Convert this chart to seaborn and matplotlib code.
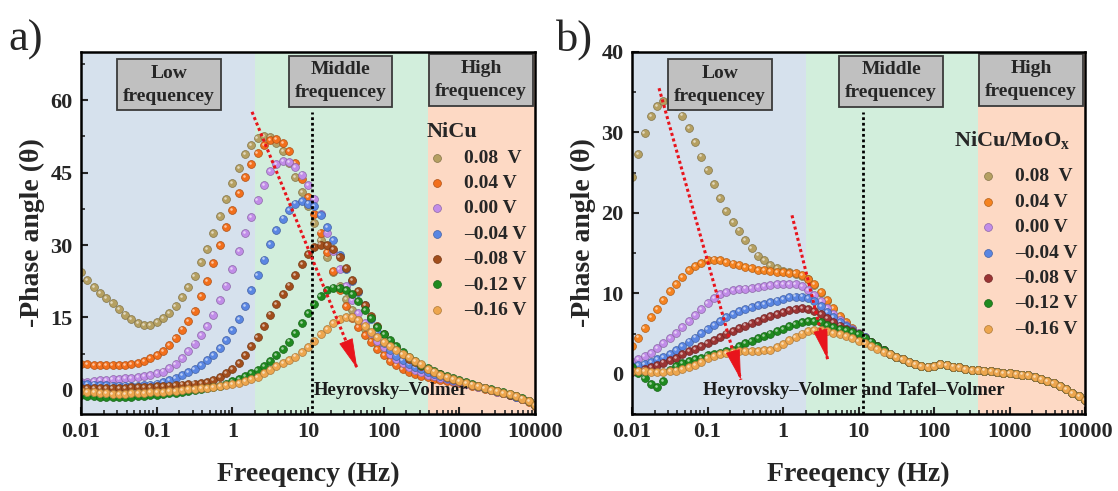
import numpy as np
import pandas as pd
import matplotlib
matplotlib.use("Agg")
import matplotlib.pyplot as plt
import matplotlib.colors as mcolors
import matplotlib.transforms as mtransforms
from matplotlib.ticker import LogLocator, NullFormatter, MultipleLocator
import seaborn as sns

sns.set_theme(style="ticks")
plt.rcParams["font.family"] = ["Liberation Serif", "DejaVu Serif"]
plt.rcParams["font.weight"] = "bold"
plt.rcParams["mathtext.fontset"] = "custom"
plt.rcParams["mathtext.rm"] = "Liberation Serif:bold"
plt.rcParams["mathtext.bf"] = "Liberation Serif:bold"
plt.rcParams["mathtext.it"] = "Liberation Serif:bold"

# ---------------------------------------------------------------- data
# Bode phase sweep, 0.01 Hz -> 10 kHz, 12 points per decade
freq = np.logspace(-2, 4, 73)

potentials = ["0.08  V", "0.04 V", "0.00 V", "\u20130.04 V", "\u20130.08 V", "\u20130.12 V", "\u20130.16 V"]

# NiCu
a_p08 = [24.4, 22.8, 21.3, 20.1, 19.0, 17.9, 16.8, 15.6, 14.6, 13.9, 13.4, 13.5,
         14.0, 14.8, 15.9, 17.3, 19.2, 21.3, 23.6, 26.4, 29.2, 32.5, 36.0, 39.5,
         42.9, 46.0, 48.8, 50.8, 52.2, 52.6, 52.3, 51.2, 49.5, 47.0, 44.0, 41.0,
         38.0, 34.6, 31.0, 27.6, 24.5, 21.5, 18.8, 16.5, 14.5, 12.6, 11.0, 9.5,
         8.2, 7.1, 6.2, 5.4, 4.7, 4.1, 3.6, 3.2, 2.9, 2.6, 2.3, 2.0,
         1.7, 1.4, 1.0, 0.7, 0.3, 0.0, -0.3, -0.6, -0.9, -1.3, -1.8, -2.4,
         -3.2]
a_p04 = [5.4, 5.3, 5.2, 5.1, 5.1, 5.1, 5.1, 5.2, 5.3, 5.6, 6.0, 6.5,
         7.2, 8.1, 9.3, 10.8, 12.5, 14.3, 16.4, 19.4, 22.6, 26.3, 30.0, 33.7,
         37.3, 40.8, 44.0, 46.8, 49.0, 50.8, 51.8, 52.0, 51.2, 49.4, 46.9, 43.6,
         40.0, 36.4, 32.6, 28.6, 24.6, 20.6, 17.3, 14.8, 13.0, 11.4, 10.0, 8.5,
         7.2, 6.0, 5.1, 4.4, 3.8, 3.3, 2.9, 2.6, 2.3, 2.1, 1.9, 1.7,
         1.5, 1.2, 0.9, 0.6, 0.2, -0.1, -0.4, -0.7, -1.0, -1.4, -1.9, -2.5,
         -3.3]
a_000 = [1.6, 1.7, 1.8, 2.0, 2.1, 2.2, 2.3, 2.4, 2.5, 2.6, 2.8, 3.1,
         3.4, 3.8, 4.5, 5.4, 6.6, 8.0, 9.6, 11.4, 13.2, 15.6, 18.6, 21.6,
         25.0, 28.8, 32.5, 35.8, 39.3, 42.5, 45.3, 46.8, 47.4, 47.2, 46.2, 44.6,
         42.4, 39.6, 36.4, 32.6, 28.8, 25.0, 21.5, 18.6, 16.0, 13.8, 11.8, 10.2,
         8.8, 7.5, 6.4, 5.5, 4.8, 4.1, 3.6, 3.1, 2.8, 2.5, 2.2, 1.9,
         1.6, 1.3, 1.0, 0.6, 0.3, -0.1, -0.4, -0.7, -1.0, -1.4, -1.8, -2.4,
         -3.2]
a_m04 = [1.3, 1.2, 1.1, 1.0, 1.0, 0.9, 0.9, 0.9, 0.9, 0.9, 1.0, 1.1,
         1.3, 1.6, 2.0, 2.5, 3.0, 3.7, 4.4, 5.2, 6.1, 7.3, 8.7, 10.4,
         12.3, 14.6, 17.4, 20.6, 23.8, 27.0, 30.2, 33.2, 35.5, 37.3, 38.6, 39.1,
         38.6, 38.0, 36.2, 33.8, 31.0, 28.0, 25.0, 22.5, 20.2, 17.5, 14.6, 12.0,
         9.8, 8.3, 7.1, 6.2, 5.4, 4.8, 4.3, 3.8, 3.3, 2.9, 2.5, 2.1,
         1.8, 1.4, 1.1, 0.7, 0.4, 0.0, -0.3, -0.6, -1.0, -1.4, -1.8, -2.4,
         -3.2]
a_m08 = [0.3, 0.3, 0.3, 0.3, 0.3, 0.3, 0.4, 0.4, 0.5, 0.5, 0.6, 0.6,
         0.7, 0.8, 0.9, 1.0, 1.1, 1.2, 1.3, 1.5, 1.7, 2.0, 2.6, 3.4,
         4.4, 5.6, 7.2, 9.0, 11.0, 13.2, 15.6, 17.8, 19.8, 21.6, 23.8, 26.0,
         28.1, 29.5, 30.1, 30.0, 29.2, 27.6, 25.2, 22.8, 20.4, 17.6, 15.3, 13.3,
         11.5, 9.9, 8.6, 7.4, 6.4, 5.7, 5.0, 4.3, 3.7, 3.2, 2.7, 2.3,
         1.9, 1.5, 1.1, 0.7, 0.4, 0.0, -0.3, -0.6, -1.0, -1.3, -1.8, -2.4,
         -3.1]
a_m12 = [-1.0, -1.2, -1.3, -1.4, -1.5, -1.5, -1.5, -1.4, -1.4, -1.3, -1.2, -1.1,
         -1.0, -0.9, -0.7, -0.6, -0.4, -0.2, -0.1, 0.2, 0.4, 0.6, 0.9, 1.3,
         1.8, 2.3, 2.8, 3.4, 4.1, 5.0, 6.0, 7.2, 8.5, 10.0, 11.8, 13.8,
         15.9, 17.8, 19.4, 20.6, 21.2, 21.1, 20.6, 19.8, 18.4, 16.6, 14.8, 13.0,
         11.6, 10.3, 9.0, 7.9, 6.9, 6.0, 5.2, 4.5, 3.9, 3.3, 2.8, 2.4,
         2.0, 1.6, 1.2, 0.8, 0.4, 0.1, -0.2, -0.5, -0.9, -1.3, -1.7, -2.3,
         -3.1]
a_m16 = [-0.3, -0.4, -0.5, -0.6, -0.7, -0.8, -0.8, -0.8, -0.7, -0.7, -0.6, -0.5,
         -0.5, -0.4, -0.3, -0.2, -0.1, 0.1, 0.2, 0.3, 0.4, 0.6, 0.8, 1.0,
         1.2, 1.5, 1.8, 2.2, 2.7, 3.4, 4.2, 4.9, 5.6, 6.2, 6.9, 7.8,
         8.9, 10.2, 11.5, 12.6, 13.8, 14.7, 15.1, 15.1, 14.4, 13.2, 12.0, 10.9,
         9.9, 9.0, 8.2, 7.5, 6.8, 6.0, 5.3, 4.4, 3.8, 3.1, 2.6, 2.2,
         1.9, 1.5, 1.1, 0.7, 0.4, 0.0, -0.3, -0.6, -0.9, -1.3, -1.8, -2.4,
         -3.2]

# NiCu/MoOx : low/middle-frequency part (0.01 Hz - ~22 Hz) of each potential
b_p08 = [24.4, 27.3, 29.9, 32.0, 33.3, 33.9, 34.0, 33.3, 32.1, 30.5, 28.8, 27.0,
         25.3, 23.6, 21.8, 20.2, 18.9, 17.8, 16.6, 15.6, 14.7, 14.1, 13.5, 13.1,
         12.8, 12.6, 12.4, 12.2, 11.8, 11.0, 10.0, 9.0, 8.0, 7.1, 6.3, 5.6,
         5.0, 4.5, 4.0, 3.4, 2.9]
b_p04 = [3.4, 4.5, 5.7, 7.0, 8.1, 9.2, 10.3, 11.2, 12.0, 12.9, 13.4, 13.8,
         14.1, 14.2, 14.1, 13.9, 13.7, 13.5, 13.3, 13.1, 12.9, 12.9, 12.8, 12.7,
         12.6, 12.5, 12.5, 12.3, 11.8, 11.1, 10.2, 9.2, 8.2, 7.2, 6.4, 5.7,
         5.1, 4.6, 4.0, 3.5, 3.0]
b_000 = [1.5, 1.8, 2.2, 2.6, 3.2, 3.8, 4.4, 5.1, 5.8, 6.5, 7.3, 8.1,
         8.8, 9.4, 9.9, 10.2, 10.4, 10.5, 10.6, 10.7, 10.8, 10.9, 11.0, 11.1,
         11.2, 11.2, 11.2, 10.9, 10.4, 9.8, 9.0, 8.2, 7.4, 6.7, 6.1, 5.6,
         5.1, 4.6, 4.0, 3.5, 3.0]
b_m04 = [1.0, 1.1, 1.2, 1.5, 1.8, 2.1, 2.5, 2.9, 3.4, 4.0, 4.5, 5.1,
         5.6, 6.1, 6.5, 7.0, 7.4, 7.8, 8.1, 8.3, 8.5, 8.7, 8.9, 9.1,
         9.3, 9.5, 9.6, 9.6, 9.4, 9.0, 8.4, 7.7, 7.0, 6.4, 5.9, 5.4,
         5.0, 4.6, 4.0, 3.5, 3.0]
b_m08 = [0.2, 0.4, 0.6, 0.8, 1.1, 1.4, 1.7, 2.0, 2.4, 2.8, 3.1, 3.4,
         3.8, 4.2, 4.6, 5.0, 5.3, 5.7, 6.0, 6.3, 6.6, 6.9, 7.2, 7.4,
         7.7, 7.9, 8.1, 8.2, 8.1, 7.8, 7.4, 6.9, 6.4, 6.0, 5.6, 5.3,
         4.9, 4.5, 4.0, 3.5, 3.0]
b_m12 = [0.8, 0.1, -0.5, -1.3, -1.7, -0.9, 0.5, 1.0, 1.3, 1.6, 1.8, 2.0,
         2.3, 2.5, 2.6, 2.8, 3.0, 3.4, 3.8, 4.1, 4.4, 4.7, 5.0, 5.3,
         5.6, 5.9, 6.2, 6.4, 6.6, 6.6, 6.4, 6.1, 5.8, 5.6, 5.4, 5.2,
         4.9, 4.5, 4.0, 3.5, 3.0]
b_m16 = [0.4, 0.3, 0.3, 0.2, 0.2, 0.2, 0.3, 0.4, 0.6, 0.8, 1.1, 1.5,
         1.9, 2.2, 2.5, 2.6, 2.7, 2.8, 2.8, 2.8, 2.8, 2.9, 3.0, 3.3,
         3.7, 4.2, 4.6, 5.0, 5.3, 5.4, 5.4, 5.3, 5.1, 4.9, 4.7, 4.4,
         4.1, 3.8, 3.4, 3.1, 2.7]
# NiCu/MoOx : above ~22 Hz all potentials share one curve
b_tail = [2.4, 2.1, 1.8, 1.5, 1.2, 1.0, 0.9, 1.0, 1.2, 1.1, 0.9, 0.8,
          0.6, 0.5, 0.5, 0.4, 0.3, 0.2, 0.1, 0.1, 0.0, -0.1, -0.2, -0.4,
          -0.7, -0.9, -1.2, -1.5, -1.9, -2.4, -2.8, -3.3]

series_a = [a_p08, a_p04, a_000, a_m04, a_m08, a_m12, a_m16]
series_b = [s + b_tail for s in (b_p08, b_p04, b_000, b_m04, b_m08, b_m12, b_m16)]

colors_a = ["#b5a062", "#f26f1c", "#c18de8", "#5a86e2", "#a24e1c", "#1f8a1f", "#eda64e"]
colors_b = ["#b5a062", "#f58320", "#c18de8", "#5a86e2", "#9a3434", "#1f8a1f", "#eda64e"]

freq_ticks = [0.01, 0.1, 1, 10, 100, 1000, 10000]
freq_labels = ["0.01", "0.1", "1", "10", "100", "1000", "10000"]

BAND_LOW, BAND_MID, BAND_HIGH = "#d6e1ed", "#d2eedc", "#fdd9c4"
band_edges = [0.01, 2.0, 385.0, 10000.0]
transition_freq = 11.3
ARROW_RED = "#e8141c"

# ---------------------------------------------------------------- figure
W, H = 1118, 491
fig = plt.figure(figsize=(W / 100, H / 100), dpi=100)
ax_a = fig.add_axes([81 / W, 77 / H, 454 / W, 362 / H])
ax_b = fig.add_axes([632 / W, 77 / H, 453 / W, 362 / H])


def trend_arrow(ax, start, end, head_px=22):
    """Dotted red trend line finished by a solid triangular head."""
    ax.plot([start[0], end[0]], [start[1], end[1]], color=ARROW_RED, lw=2.2,
            ls=(0, (1, 0.9)), zorder=7, solid_capstyle="butt")
    p0 = ax.transData.transform(start)
    p1 = ax.transData.transform(end)
    u = (p1 - p0) / np.hypot(*(p1 - p0))
    head_start = ax.transData.inverted().transform(p1 - u * head_px)
    ax.annotate("", xy=end, xytext=tuple(head_start),
                arrowprops=dict(arrowstyle="-|>,head_length=1.0,head_width=0.24",
                                color=ARROW_RED, lw=0.6, shrinkA=0, shrinkB=0,
                                mutation_scale=20),
                zorder=7)


def draw_panel(ax, series, colors, ylim, yticks, yminor, title, title_xy, title_ha,
               leg_anchor, mech_text, mech_xy, arrows):
    ax.set_xscale("log")
    for c, (lo, hi) in zip([BAND_LOW, BAND_MID, BAND_HIGH], zip(band_edges[:-1], band_edges[1:])):
        ax.axvspan(lo, hi, color=c, lw=0, zorder=0)

    hl_offset = mtransforms.ScaledTranslation(-0.8 / 72, 0.8 / 72, fig.dpi_scale_trans)
    for i, (vals, col, lab) in enumerate(zip(series, colors, potentials)):
        df = pd.DataFrame({"freq": freq, "phase": vals})
        edge = tuple(np.array(mcolors.to_rgb(col)) * 0.72)
        sns.scatterplot(data=df, x="freq", y="phase", color=col, s=32, edgecolor=edge,
                        linewidth=0.5, label=lab, ax=ax, zorder=2 + i * 0.1)
        # small specular spot to give the beads a rounded look
        ax.scatter(df["freq"], df["phase"], s=3.5, c="white", alpha=0.6, linewidths=0,
                   transform=ax.transData + hl_offset, zorder=2 + i * 0.1 + 0.05)

    ax.set_xlim(0.01, 10000)
    ax.set_ylim(*ylim)
    ax.set_xticks(freq_ticks)
    ax.set_xticklabels(freq_labels)
    ax.xaxis.set_minor_locator(LogLocator(base=10, subs=np.arange(2, 10)))
    ax.xaxis.set_minor_formatter(NullFormatter())
    ax.set_yticks(yticks)
    ax.yaxis.set_minor_locator(MultipleLocator(yminor))
    ax.tick_params(which="major", direction="in", length=5, width=1.5, labelsize=16,
                   top=False, right=False, pad=6)
    ax.tick_params(which="minor", direction="in", length=3, width=1.2, top=False, right=False)
    for sp in ax.spines.values():
        sp.set_linewidth(1.8)
        sp.set_color("black")
        sp.set_zorder(10)

    ax.set_xlabel("Freeqency (Hz)", fontsize=20, fontweight="bold", labelpad=14)
    ax.set_ylabel("-Phase angle (\u03b8)", fontsize=20, fontweight="bold", labelpad=4)

    # boundary between charge-transfer regimes
    top_val = ylim[0] + 0.833 * (ylim[1] - ylim[0])
    ax.plot([transition_freq, transition_freq], [ylim[0], top_val], color="black",
            lw=2.0, ls=(0, (1, 1)), zorder=5)

    box = dict(boxstyle="square,pad=0.3", fc="#c0c0c0", ec="#3a3a3a", lw=1.3)
    for x, y, t in [(0.194, 0.910, "Low\nfrequencey"),
                    (0.572, 0.919, "Middle\nfrequencey"),
                    (0.881, 0.922, "High\nfrequencey")]:
        ax.text(x, y, t, transform=ax.transAxes, ha="center", va="center", fontsize=14,
                fontweight="bold", linespacing=1.45, bbox=box, zorder=8)

    ax.text(*mech_xy, mech_text, ha="left", va="center", fontsize=13.5,
            fontweight="bold", color="#1a1a1a", zorder=8)

    for start, end in arrows:
        trend_arrow(ax, start, end)

    leg = ax.legend(loc="upper left", bbox_to_anchor=leg_anchor, frameon=False,
                    prop={"size": 14, "weight": "bold"}, handlelength=1.0,
                    handletextpad=0.9, labelspacing=0.4, borderpad=0, borderaxespad=0,
                    markerscale=1.0)
    leg.set_zorder(9)
    ax.text(*title_xy, title, transform=ax.transAxes, ha=title_ha, va="center",
            fontsize=16, fontweight="bold", zorder=9)


draw_panel(ax_a, series_a, colors_a, (-5, 70), [0, 15, 30, 45, 60], 7.5,
           "NiCu", (0.762, 0.779), "left", (0.763, 0.732),
           "Heyrovsky\u2013Volmer", (11.8, -0.2),
           [((1.82, 57.6), (44.8, 4.4))])

draw_panel(ax_b, series_b, colors_b, (-5, 40), [0, 10, 20, 30, 40], 5,
           "NiCu/MoO$_{\\mathbf{x}}$", (0.839, 0.757), "center", (0.765, 0.680),
           "Heyrovsky\u2013Volmer and Tafel\u2013Volmer", (0.087, -2.1),
           [((0.0228, 35.5), (0.277, -0.75)), ((1.315, 19.7), (3.9, 1.8))])

fig.text(8 / W, 1 - 40 / H, "a)", fontsize=32, fontweight="normal", ha="left", va="center")
fig.text(556 / W, 1 - 40 / H, "b)", fontsize=32, fontweight="normal", ha="left", va="center")

fig.savefig("out.png", dpi=100)
